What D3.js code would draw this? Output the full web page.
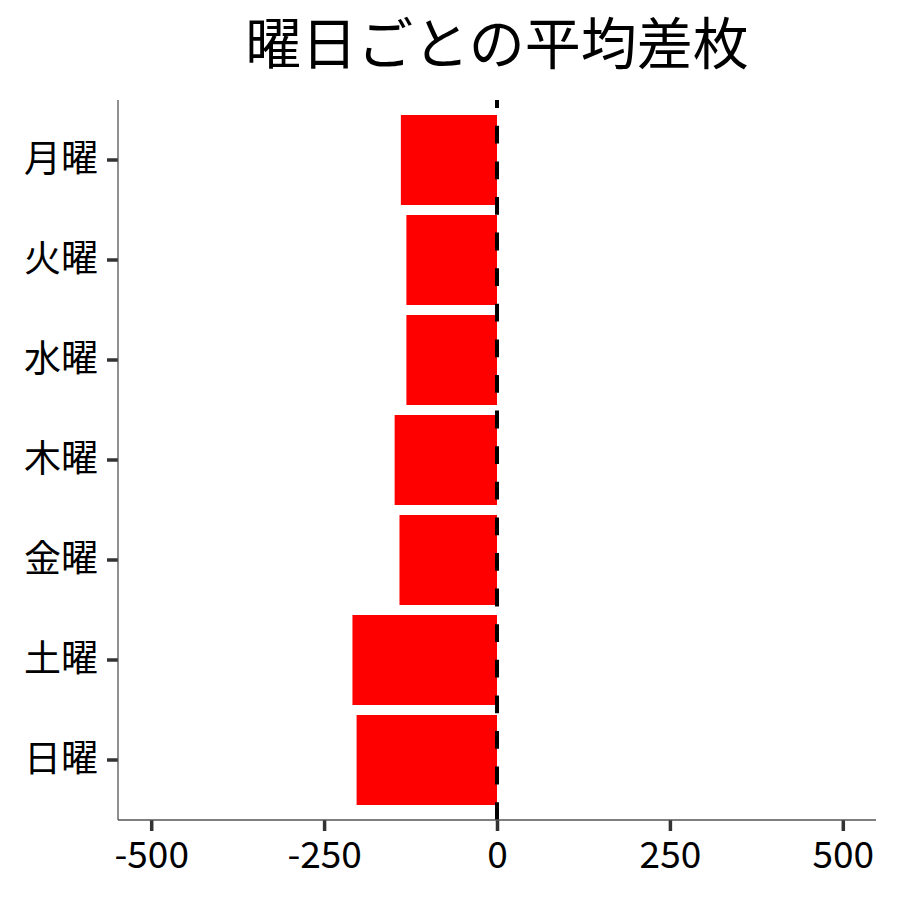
<!DOCTYPE html>
<html>
<head>
<meta charset="utf-8">
<script src="https://cdn.jsdelivr.net/npm/d3@7"></script>
<style>
  body { margin: 0; background: #fff; }
  text { font-family: "Noto Sans CJK JP", "Noto Sans", sans-serif; }
</style>
</head>
<body>
<div class="canvas"></div>
<script>
// data
const days = ['月曜', '火曜', '水曜', '木曜', '金曜', '土曜', '日曜']
const avgDiff = [-139, -131, -131, -148, -141, -209, -203]
const xTicks = [-500, -250, 0, 250, 500]

const dims = {width: 900, height: 900}
const panel = {left: 118, right: 876, top: 100, bottom: 820}

const svg = d3.select('.canvas')
    .append('svg')
    .attr('width', dims.width)
    .attr('height', dims.height)

const x = d3.scaleLinear()
    .domain([-548, 548])
    .range([panel.left, panel.right])

const y = d3.scaleBand()
    .domain(days)
    .range([panel.top, panel.bottom])
    .paddingInner(0.1)
    .paddingOuter(0.15)

const data = days.map((d, i) => ({day: d, value: avgDiff[i]}))

//bars
svg.append('g')
    .selectAll('rect')
    .data(data)
    .enter()
    .append('rect')
    .attr('x', d => x(Math.min(0, d.value)))
    .attr('width', d => Math.abs(x(d.value) - x(0)))
    .attr('y', d => y(d.day))
    .attr('height', y.bandwidth())
    .attr('fill', '#ff0000')

//dashed zero line, drawn bottom-up like ggplot
svg.append('line')
    .attr('x1', x(0)).attr('x2', x(0))
    .attr('y1', panel.bottom).attr('y2', panel.top)
    .attr('stroke', '#000')
    .attr('stroke-width', 4)
    .attr('stroke-dasharray', '17.8,17.8')

//x axis
const xAxis = d3.axisBottom(x)
    .tickValues(xTicks)
    .tickSize(11)
    .tickFormat(d3.format('d'))

const gx = svg.append('g')
    .attr('transform', `translate(0, ${panel.bottom})`)
    .call(xAxis)
gx.select('.domain').remove()
gx.selectAll('.tick line').attr('stroke', '#333').attr('stroke-width', 3.5)
gx.selectAll('.tick text')
    .attr('fill', '#000')
    .attr('font-size', 37)
    .attr('font-family', '"Noto Sans CJK JP", sans-serif')
    .attr('y', 48)
    .attr('dy', 0)
    .text(d => d < 0 ? '-' + Math.abs(d) : d)

//y axis
const yAxis = d3.axisLeft(y)
    .tickSize(11)
    .tickPadding(9)

const gy = svg.append('g')
    .attr('transform', `translate(${panel.left}, 0)`)
    .call(yAxis)
gy.select('.domain').remove()
gy.selectAll('.tick line').attr('stroke', '#333').attr('stroke-width', 3.5)
gy.selectAll('.tick text')
    .attr('fill', '#000')
    .attr('font-size', 37)
    .attr('font-family', '"Noto Sans CJK JP", sans-serif')

//axis lines
svg.append('line')
    .attr('x1', panel.left).attr('x2', panel.left)
    .attr('y1', panel.top).attr('y2', panel.bottom)
    .attr('stroke', '#555').attr('stroke-width', 1.3)
svg.append('line')
    .attr('x1', panel.left).attr('x2', panel.right)
    .attr('y1', panel.bottom).attr('y2', panel.bottom)
    .attr('stroke', '#555').attr('stroke-width', 1.3)

//title
svg.append('text')
    .attr('x', (panel.left + panel.right) / 2)
    .attr('y', 64)
    .attr('text-anchor', 'middle')
    .attr('font-size', 56)
    .attr('fill', '#000')
    .text('曜日ごとの平均差枚')
</script>
</body>
</html>
